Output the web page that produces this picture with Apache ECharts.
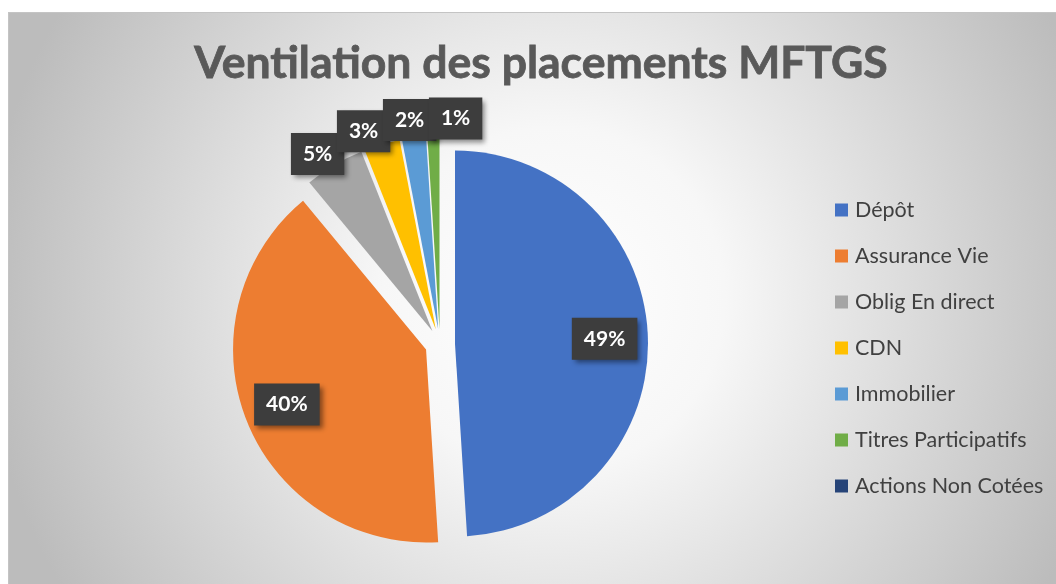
<!DOCTYPE html>
<html><head><meta charset="utf-8">
<script src="https://cdn.jsdelivr.net/npm/echarts@6/dist/echarts.min.js"></script>
<style>
html,body{margin:0;padding:0;background:#fff;}
#chart{position:absolute;left:8px;top:12px;width:1048px;height:572px;border-left:1px solid #c4c4c4;border-top:1px solid #c4c4c4;box-sizing:border-box;}
</style></head>
<body><div id="chart"></div>
<script>
const categories = ['Dépôt','Assurance Vie','Oblig En direct','CDN','Immobilier','Titres Participatifs','Actions Non Cotées'];
const values = [49, 40, 5, 3, 2, 1, 0];
const colors = ['#4472C4','#ED7D31','#A5A5A5','#FFC000','#5B9BD5','#70AD47','#264478'];
const title = 'Ventilation des placements MFTGS';

const chart = echarts.init(document.getElementById('chart'));
const total = values.reduce((a,b)=>a+b,0);
const boxStyle = {
  color:'#fff', fontFamily:'Lato', fontWeight:'bold', fontSize:21,
  backgroundColor:'#3d3d3d', padding:[11,12,10,12],
  shadowBlur:5, shadowColor:'rgba(0,0,0,0.45)', shadowOffsetX:3, shadowOffsetY:3
};
const fmt = p => Math.round(p.value / total * 100) + '%';
const centre = [431, 331];
const R = 193;
const OFFSET = 15;
const OUT_DIST = 226;
const MIN_GAP = 46;
const isSmall = i => values[i] > 0 && values[i] / total < 0.1;
const transparent = 'rgba(0,0,0,0)';
const sliceData = categories.map((n,i)=>({
  name:n, value:values[i], selected:true, itemStyle:{color:colors[i]}
}));
const insideLabelData = categories.map((n,i)=>({
  name:n, value:values[i], selected:true,
  itemStyle:{color:transparent},
  label:{show: values[i] / total >= 0.1}
}));
const outsideLabelData = categories.map((n,i)=>({
  name:n, value:values[i],
  itemStyle:{color:transparent},
  label:{show: isSmall(i)}
}));
function midAngle(i){
  let cum = 0;
  for (let k=0;k<i;k++) cum += values[k];
  return (cum + values[i]/2) / total * Math.PI * 2;
}
// outside label anchors along each slice's mid-angle, spread horizontally, kept on a circle round the pie
const outPos = {};
(function(){
  const items = [];
  values.forEach((v,i)=>{ if (isSmall(i)) {
    const a = midAngle(i);
    items.push({i, dx: Math.sin(a)*OUT_DIST, up: Math.cos(a) >= 0});
  }});
  items.sort((p,q)=>p.dx-q.dx);
  for (let it=0; it<200; it++){
    for (let k=1;k<items.length;k++){
      const d = items[k].dx - items[k-1].dx;
      if (d < MIN_GAP){ const s=(MIN_GAP-d)/2; items[k].dx += s; items[k-1].dx -= s; }
    }
  }
  items.forEach(p=>{
    const h = Math.sqrt(Math.max(0, OUT_DIST*OUT_DIST - p.dx*p.dx));
    outPos[p.i] = {x: centre[0] + p.dx, y: centre[1] + (p.up ? -h : h)};
  });
})();
chart.setOption({
  animation:false,
  backgroundColor:{type:'radial', x:0.52, y:0.5, r:1.0,
    colorStops:[{offset:0,color:'#ffffff'},{offset:0.3,color:'#f7f7f7'},{offset:1,color:'#bcbcbc'}]},
  title:{text:title, left:527, textAlign:'center', top:23,
    textStyle:{fontFamily:'Lato', fontWeight:'bold', fontSize:44.5, color:'#595959',
      textBorderColor:'#595959', textBorderWidth:0.8}},
  legend:{orient:'vertical', left:821, top:181, itemWidth:13, itemHeight:13, itemGap:24,
    icon:'rect', data:categories,
    textStyle:{fontFamily:'Lato', fontSize:21.5, lineHeight:21, color:'#404040', padding:[0,0,0,2]}},
  series:[
    {type:'pie', center:centre, radius:R, startAngle:90, clockwise:true,
     selectedMode:'multiple', selectedOffset:OFFSET,
     emphasis:{disabled:true}, label:{show:false}, labelLine:{show:false},
     data:sliceData},
    {type:'pie', center:centre, radius:R*1.52, startAngle:90, clockwise:true,
     selectedMode:'multiple', selectedOffset:OFFSET, silent:true, avoidLabelOverlap:false,
     emphasis:{disabled:true},
     label:Object.assign({position:'inside', formatter:fmt}, boxStyle),
     labelLine:{show:false},
     data:insideLabelData},
    {type:'pie', center:centre, radius:R, startAngle:90, clockwise:true,
     selectedMode:false, silent:true, avoidLabelOverlap:false,
     emphasis:{disabled:true},
     label:Object.assign({position:'outside', formatter:fmt}, boxStyle),
     labelLine:{show:false, length:6, length2:0},
     labelLayout:function(p){
       const q = outPos[p.dataIndex];
       if (!q) return {};
       return { x:q.x, y:q.y, align:'center', verticalAlign:'middle', hideOverlap:false };
     },
     data:outsideLabelData}
  ]
});
</script></body></html>
